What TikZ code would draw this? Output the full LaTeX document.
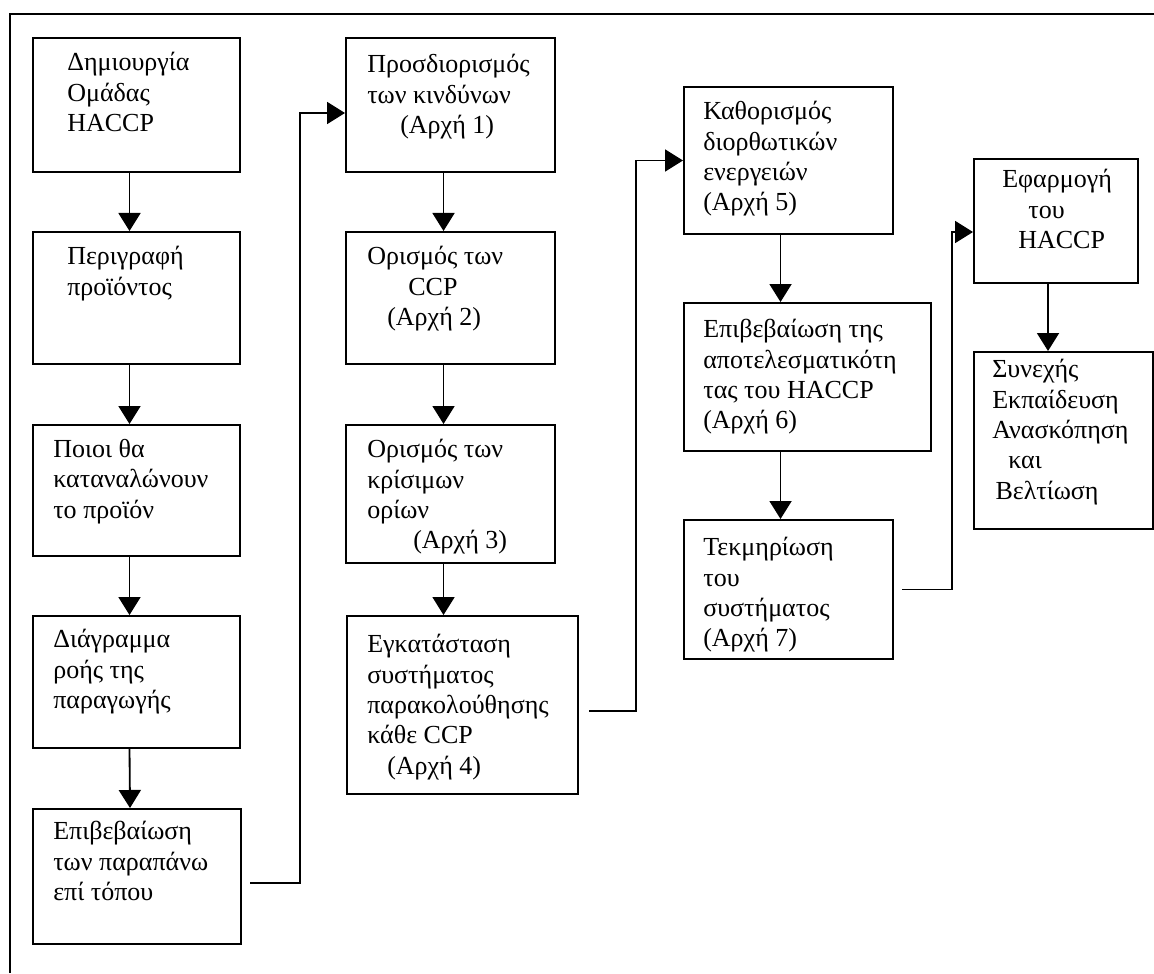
\documentclass[tikz,border=0pt]{standalone}
\usepackage{fontspec}
\setmainfont{Liberation Serif}
\usetikzlibrary{arrows.meta}
\tikzset{box/.style={rectangle,draw,line width=1.4pt,anchor=north west,inner sep=0pt}}
\tikzset{txt/.style={anchor=north west,inner sep=0pt,align=left,font=\fontsize{18.5}{21.6}\selectfont,execute at begin node=\strut}}
\tikzset{arr/.style={line width=1.3pt,-{Triangle[length=0.45cm,width=0.55cm]}}}
\begin{document}
\begin{tikzpicture}[x=0.025cm,y=-0.025cm]
      \useasboundingbox (0,0) rectangle (1154,973);
      \draw[line width=1.8pt] (10,973) |- (1154,14);
% first column
      \node[box,minimum width=5.175cm,minimum height=3.35cm] (b1) at (32,37) {};
      \node[box,minimum width=5.175cm,minimum height=3.3cm] (b2) at (32,231) {};
      \node[box,minimum width=5.175cm,minimum height=3.275cm] (b3) at (32,424) {};
      \node[box,minimum width=5.175cm,minimum height=3.3cm] (b4) at (32,615) {};
      \node[box,minimum width=5.2cm,minimum height=3.375cm] (b5) at (32,808) {};
      \node[txt] (t1) at (67,52) {Δημιουργία\\Ομάδας\\HACCP};
      \node[txt] (t2) at (67,246) {Περιγραφή\\προϊόντος};
      \node[txt] (t3) at (53,439) {Ποιοι θα\\καταναλώνουν\\το προϊόν};
      \node[txt] (t4) at (53,629) {Διάγραμμα\\ροής της\\παραγωγής};
      \node[txt] (t5) at (53,821) {Επιβεβαίωση\\των παραπάνω\\επί τόπου};
% second column
      \node[box,minimum width=5.225cm,minimum height=3.35cm] (b6) at (345,37) {};
      \node[box,minimum width=5.225cm,minimum height=3.3cm] (b7) at (345,231) {};
      \node[box,minimum width=5.225cm,minimum height=3.45cm] (b8) at (345,424) {};
      \node[box,minimum width=5.775cm,minimum height=4.45cm] (b9) at (346,615) {};
      \node[txt] (t6) at (367,54) {Προσδιορισμός\\των κινδύνων\\\hspace*{0.825cm}(Αρχή 1)};
      \node[txt] (t7) at (367,246) {Ορισμός των\\\hspace*{1.025cm}CCP\\\hspace*{0.5cm}(Αρχή 2)};
      \node[txt] (t8) at (367,439) {Ορισμός των\\κρίσιμων\\ορίων\\\hspace*{1.15cm}(Αρχή 3)};
      \node[txt] (t9) at (367,634) {Εγκατάσταση\\συστήματος\\παρακολούθησης\\κάθε CCP\\\hspace*{0.5cm}(Αρχή 4)};
% third column
      \node[box,minimum width=5.225cm,minimum height=3.675cm] (b10) at (683,86) {};
      \node[box,minimum width=6.175cm,minimum height=3.7cm] (b11) at (683,302) {};
      \node[box,minimum width=5.225cm,minimum height=3.475cm] (b12) at (683,519) {};
      \node[txt] (t10) at (703,101) {Καθορισμός\\διορθωτικών\\ενεργειών\\(Αρχή 5)};
      \node[txt] (t11) at (703,319) {Επιβεβαίωση της\\αποτελεσματικότη\\τας του HACCP\\(Αρχή 6)};
      \node[txt] (t12) at (703,537) {Τεκμηρίωση\\του\\συστήματος\\(Αρχή 7)};
% fourth column
      \node[box,minimum width=4.1cm,minimum height=3.1cm] (b13) at (973,158) {};
      \node[box,minimum width=4.475cm,minimum height=4.425cm] (b14) at (973,351) {};
      \node[txt] (t13) at (1002,169) {Εφαρμογή\\\hspace*{0.65cm}του\\\hspace*{0.4cm}HACCP};
      \node[txt] (t14) at (992,359) {Συνεχής\\Εκπαίδευση\\Ανασκόπηση\\\hspace*{0.4cm}και\\\hspace*{0.08cm}Βελτίωση};
% arrows
      \foreach \a/\b in {b1/b2,b2/b3,b3/b4,b4/b5,b6/b7,b7/b8}
        \draw[arr] ([xshift=-0.175cm]\a.south) -- ([xshift=-0.175cm]\b.north);
      \draw[arr] ([xshift=-0.175cm]b8.south) -- ([xshift=-0.175cm]b8.south |- b9.north);
      \draw[arr] ([xshift=-0.2cm]b10.south) -- ([xshift=-0.2cm]b10.south |- b11.north);
      \draw[arr] ([xshift=-0.2cm]b11.south -| b10.south) -- ([xshift=-0.2cm]b12.north);
      \draw[arr] ([xshift=-0.2cm]b13.south) -- ([xshift=-0.2cm]b13.south |- b14.north);
      \draw[arr] ([shift={(0.2cm,-0.16cm)}]b5.east) -- ++(1.25cm,0) |- ([yshift=-0.2cm]b6.west);
      \draw[arr] ([shift={(0.25cm,-0.15cm)}]b9.east) -- ++(1.175cm,0) |- (b10.west);
      \draw[arr] ([xshift=0.2cm]b12.east) -- ++(1.25cm,0) |- ([yshift=-0.275cm]b13.west);
    \end{tikzpicture}
\end{document}
